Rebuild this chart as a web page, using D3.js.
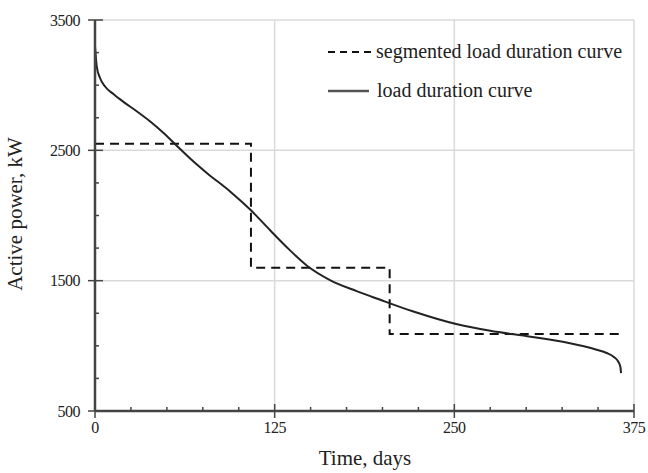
<!DOCTYPE html>
<html>
<head>
<meta charset="utf-8">
<script src="https://cdn.jsdelivr.net/npm/d3@7"></script>
<style>
  body { margin: 0; background: #fff; }
  text { font-family: "Liberation Serif", "Times New Roman", serif; fill: #222; }
</style>
</head>
<body>
<div id="chart"></div>
<script>
// load duration curve (days, kW)
var curveDays = [0, 1.2, 3.5, 7, 13, 20, 29, 38, 47.5, 56, 66, 78, 94, 108.5, 122, 135, 147.5, 163.5, 182, 198, 221, 252, 275, 303, 328, 349, 356, 361, 364, 365.5, 366];
var curveLoad = [3300, 3145, 3055, 2990, 2930, 2870, 2800, 2725, 2635, 2545, 2440, 2325, 2185, 2040, 1885, 1740, 1615, 1505, 1420, 1355, 1265, 1165, 1115, 1070, 1025, 970, 945, 915, 880, 840, 790];

// segmented curve: step boundaries and levels
var segBounds = [0, 108.5, 205, 366];
var segLevels = [2550, 1600, 1090];

var xTicks = [0, 125, 250, 375];
var yTicks = [500, 1500, 2500, 3500];
var legendNames = ["segmented load duration curve", "load duration curve"];

var W = 648, H = 473;
var margin = {top: 20, right: 14, bottom: 62, left: 95};
var width = W - margin.left - margin.right,
    height = H - margin.top - margin.bottom;

var svg = d3.select("#chart").append("svg").attr("width", W).attr("height", H);
var g = svg.append("g").attr("transform", "translate(" + margin.left + "," + margin.top + ")");

var x = d3.scaleLinear().domain([0, 375]).range([0, width]);
var y = d3.scaleLinear().domain([500, 3500]).range([height, 0]);

// gridlines at major ticks
g.selectAll(".hgrid").data(yTicks.slice(1)).enter().append("line")
    .attr("x1", 0).attr("x2", width)
    .attr("y1", function (d) { return y(d); }).attr("y2", function (d) { return y(d); })
    .attr("stroke", "#dadada").attr("stroke-width", 1.5);
g.selectAll(".vgrid").data(xTicks.slice(1)).enter().append("line")
    .attr("y1", 0).attr("y2", height)
    .attr("x1", function (d) { return x(d); }).attr("x2", function (d) { return x(d); })
    .attr("stroke", "#dadada").attr("stroke-width", 1.5);

// segmented step line
var segPoints = [];
segLevels.forEach(function (v, i) {
    segPoints.push([segBounds[i], v]);
    segPoints.push([segBounds[i + 1], v]);
});
var line = d3.line().x(function (d) { return x(d[0]); }).y(function (d) { return y(d[1]); });
g.append("path").datum(segPoints)
    .attr("d", line)
    .attr("fill", "none").attr("stroke", "#111").attr("stroke-width", 2)
    .attr("stroke-dasharray", "9,6");

// load duration curve
var curveData = curveDays.map(function (d, i) { return [d, curveLoad[i]]; });
g.append("path").datum(curveData)
    .attr("d", line.curve(d3.curveMonotoneX))
    .attr("fill", "none").attr("stroke", "#222").attr("stroke-width", 2);

// axes: major ticks cross the line, minor ticks point inward
var axisColor = "#444";
g.append("line").attr("x1", 0).attr("x2", 0).attr("y1", 0).attr("y2", height)
    .attr("stroke", axisColor).attr("stroke-width", 2.5);
g.append("line").attr("x1", 0).attr("x2", width).attr("y1", height).attr("y2", height)
    .attr("stroke", axisColor).attr("stroke-width", 2.5);

var yMinor = d3.range(500, 3501, 250);
g.selectAll(".yminor").data(yMinor).enter().append("line")
    .attr("x1", function (d) { return yTicks.indexOf(d) >= 0 ? -7 : 0; })
    .attr("x2", function (d) { return yTicks.indexOf(d) >= 0 ? 8 : 4; })
    .attr("y1", function (d) { return y(d); }).attr("y2", function (d) { return y(d); })
    .attr("stroke", axisColor).attr("stroke-width", 1.5);
var xMinor = d3.range(0, 376, 25);
g.selectAll(".xminor").data(xMinor).enter().append("line")
    .attr("x1", function (d) { return x(d); }).attr("x2", function (d) { return x(d); })
    .attr("y1", function (d) { return xTicks.indexOf(d) >= 0 ? height - 7 : height - 4; })
    .attr("y2", function (d) { return xTicks.indexOf(d) >= 0 ? height + 7 : height; })
    .attr("stroke", axisColor).attr("stroke-width", 1.5);

g.selectAll(".ylab").data(yTicks).enter().append("text")
    .attr("x", -15).attr("y", function (d) { return y(d); })
    .attr("dy", "0.35em").attr("text-anchor", "end")
    .style("font-size", "16px").style("letter-spacing", "-0.5px")
    .text(function (d) { return d; });
g.selectAll(".xlab").data(xTicks).enter().append("text")
    .attr("x", function (d) { return x(d); }).attr("y", height + 22)
    .attr("text-anchor", "middle")
    .style("font-size", "16px").style("letter-spacing", "-0.5px")
    .text(function (d) { return d; });

// axis titles
svg.append("text").attr("x", 365).attr("y", 465)
    .attr("text-anchor", "middle").style("font-size", "21px")
    .text("Time, days");
svg.append("text").attr("transform", "translate(22,214) rotate(-90)")
    .attr("text-anchor", "middle").style("font-size", "21px")
    .text("Active power, kW");

// legend
var legend = svg.append("g");
legend.append("line").attr("x1", 328).attr("x2", 373).attr("y1", 52).attr("y2", 52)
    .attr("stroke", "#111").attr("stroke-width", 2).attr("stroke-dasharray", "7,5");
legend.append("text").attr("x", 376).attr("y", 58).style("font-size", "20px")
    .text(legendNames[0]);
legend.append("line").attr("x1", 328).attr("x2", 369).attr("y1", 91).attr("y2", 91)
    .attr("stroke", "#555").attr("stroke-width", 2.5);
legend.append("text").attr("x", 377).attr("y", 97).style("font-size", "20px")
    .text(legendNames[1]);
</script>
</body>
</html>
